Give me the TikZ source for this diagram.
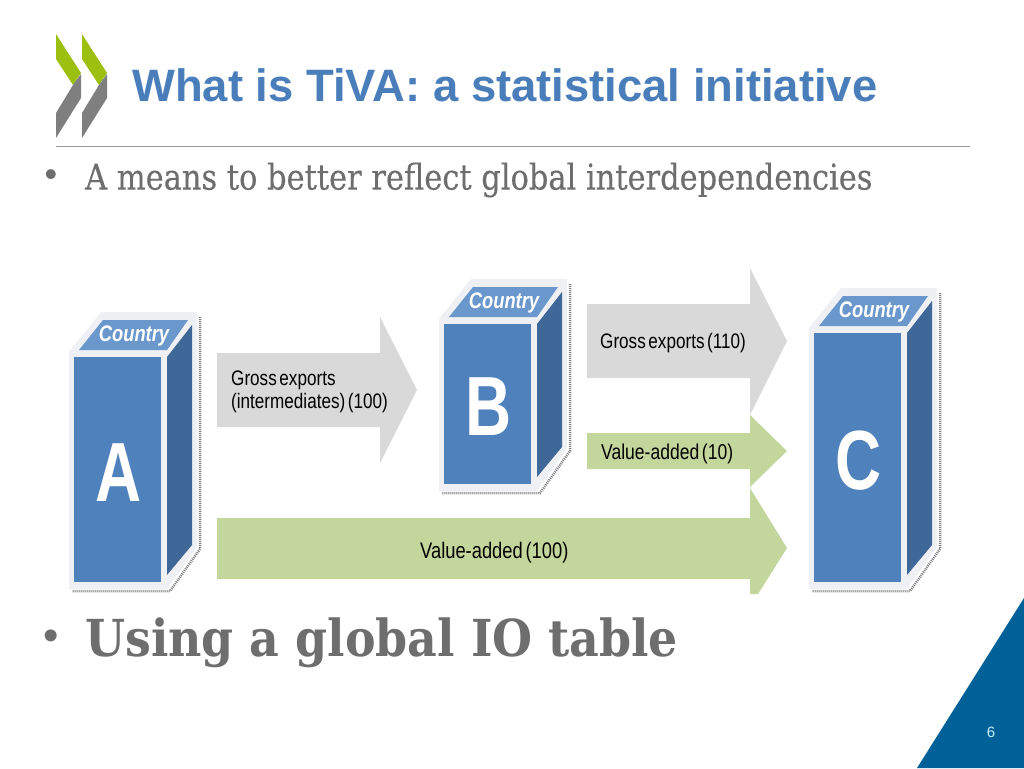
\documentclass[tikz,border=0pt]{standalone}
\usepackage{fontspec}
\setmainfont{Liberation Sans}
\newfontfamily\narrowfont[FakeStretch=0.815,WordSpace=0.55]{Liberation Sans}
\newfontfamily\letterfont[FakeStretch=0.76]{Liberation Sans}
\newfontfamily\serifbody[FakeStretch=0.858,FakeBold=0.25]{DejaVu Serif}
\newfontfamily\serifbold[FakeStretch=0.9]{DejaVu Serif}
\definecolor{titleblue}{HTML}{4A7EBB}
\definecolor{facefront}{HTML}{4F81BD}
\definecolor{facetop}{HTML}{6A98CC}
\definecolor{faceside}{HTML}{3F6797}
\definecolor{boxedge}{HTML}{EEF0F4}
\definecolor{arrowgray}{HTML}{D9D9D9}
\definecolor{arrowgreen}{HTML}{C3D69B}
\definecolor{oecdgreen}{HTML}{9DBF0F}
\definecolor{oecdgray}{HTML}{7F7F7F}
\definecolor{bodygray}{HTML}{6E6E6E}
\definecolor{cornerblue}{HTML}{006199}
\tikzset{
  boxlabel/.style={font=\narrowfont\bfseries\itshape\fontsize{22.5}{24}\selectfont, text=white, inner sep=0pt},
  boxletter/.style={font=\letterfont\bfseries\fontsize{84}{84}\selectfont, text=white, inner sep=0pt},
  flowlabel/.style={font=\narrowfont\fontsize{21}{23}\selectfont, text=black, inner sep=0pt, align=left},
  shadowline/.style={draw=gray, line width=2.5pt, dash pattern=on 1pt off 1pt}
}
% #1 name, #2 left, #3 top, #4 bottom, #5 letter
\newcommand{\countrybox}[5]{
  \draw[shadowline] (#2+126,#3-40) -- (#2+126,#4-33) -- (#2+96,#4+9) -- (#2-2,#4+9);
  \fill[boxedge] (#2-5,#3-5) -- (#2+27,#3-45) -- (#2+123,#3-45) -- (#2+123,#4-35) -- (#2+93,#4+7) -- (#2-5,#4+7) -- cycle;
  \fill[facetop] (#2+5,#3-7) -- (#2+93,#3-7) -- (#2+114,#3-37) -- (#2+29,#3-37) -- cycle;
  \fill[faceside] (#2+93,#3) -- (#2+118,#3-32) -- (#2+118,#4-37) -- (#2+93,#4-7) -- cycle;
  \node[fill=facefront, minimum width=87pt, minimum height={#4-#3}, inner sep=0pt, anchor=north west] (#1) at (#2,#3) {};
  \node[boxletter] (#1letter) at (#2+45,{(#3+#4)/2+3}) {#5};
  \node[boxlabel] (#1label) at (#2+60,#3-21) {Country};
}
\begin{document}
\begin{tikzpicture}[x=1pt,y=-1pt]
  \useasboundingbox (0,0) rectangle (1024,768);

  % logo
  \foreach \dx in {0,26} {
    \fill[oecdgreen] (56+\dx,34) -- (81+\dx,73) -- (73+\dx,85) -- (56+\dx,59) -- cycle;
    \fill[oecdgray] (81+\dx,74) -- (81+\dx,98) -- (56+\dx,138) -- (56+\dx,113) -- (73+\dx,85) -- cycle;
  }
  \node[font=\bfseries\fontsize{45.4}{46}\selectfont, text=titleblue, inner sep=0pt, anchor=west] (title) at (132,85) {What is TiVA: a statistical initiative};
  \draw[gray!80, line width=0.7pt] (56,146) -- (970,146);

  \node[font=\fontsize{36}{36}\selectfont, text=bodygray, inner sep=0pt] (bulletone) at (51,178) {•};
  \node[font=\serifbody\fontsize{35.5}{36}\selectfont, text=bodygray, inner sep=0pt, anchor=west] (lineone) at (85,180) {A means to better reflect global interdependencies};

  % flows
  \fill[arrowgray] (217,353) -- (380,353) -- (380,317) -- (417,390) -- (380,463) -- (380,427) -- (217,427) -- cycle;
  \fill[arrowgray] (587,304) -- (750,304) -- (750,268) -- (787,341) -- (750,415) -- (750,378) -- (587,378) -- cycle;
  \fill[arrowgreen] (587,433) -- (750,433) -- (750,415) -- (787,451) -- (750,487) -- (750,469) -- (587,469) -- cycle;
  \fill[arrowgreen] (217,518) -- (750,518) -- (750,488) -- (787,548) -- (758,594) -- (750,594) -- (750,579) -- (217,579) -- cycle;
  \node[flowlabel, anchor=west] (grossab) at (231,392) {Gross exports\\(intermediates) (100)};
  \node[flowlabel, anchor=west] (grossbc) at (600,343) {Gross exports (110)};
  \node[flowlabel, anchor=west, font=\narrowfont\fontsize{21.5}{23}\selectfont] (valuebc) at (601,454) {Value-added (10)};
  \node[flowlabel, anchor=west, font=\narrowfont\fontsize{22.5}{23}\selectfont] (valueac) at (420,553) {Value-added (100)};

  % countries
  \countrybox{countrya}{74}{357}{582}{A}
  \countrybox{countryb}{444}{324}{484}{B}
  \countrybox{countryc}{814}{333}{582}{C}

  \node[font=\fontsize{44}{44}\selectfont, text=bodygray, inner sep=0pt] (bullettwo) at (51,640) {•};
  \node[font=\serifbold\bfseries\fontsize{51}{51}\selectfont, text=bodygray, inner sep=0pt, anchor=west] (linetwo) at (85,643) {Using a global IO table};

  % corner
  \fill[cornerblue] (1024,598) -- (1024,768) -- (917,768) -- cycle;
  \node[font=\fontsize{15}{15}\selectfont, text=cyan!20, inner sep=0pt] (pagenum) at (991,732) {6};
\end{tikzpicture}
\end{document}
